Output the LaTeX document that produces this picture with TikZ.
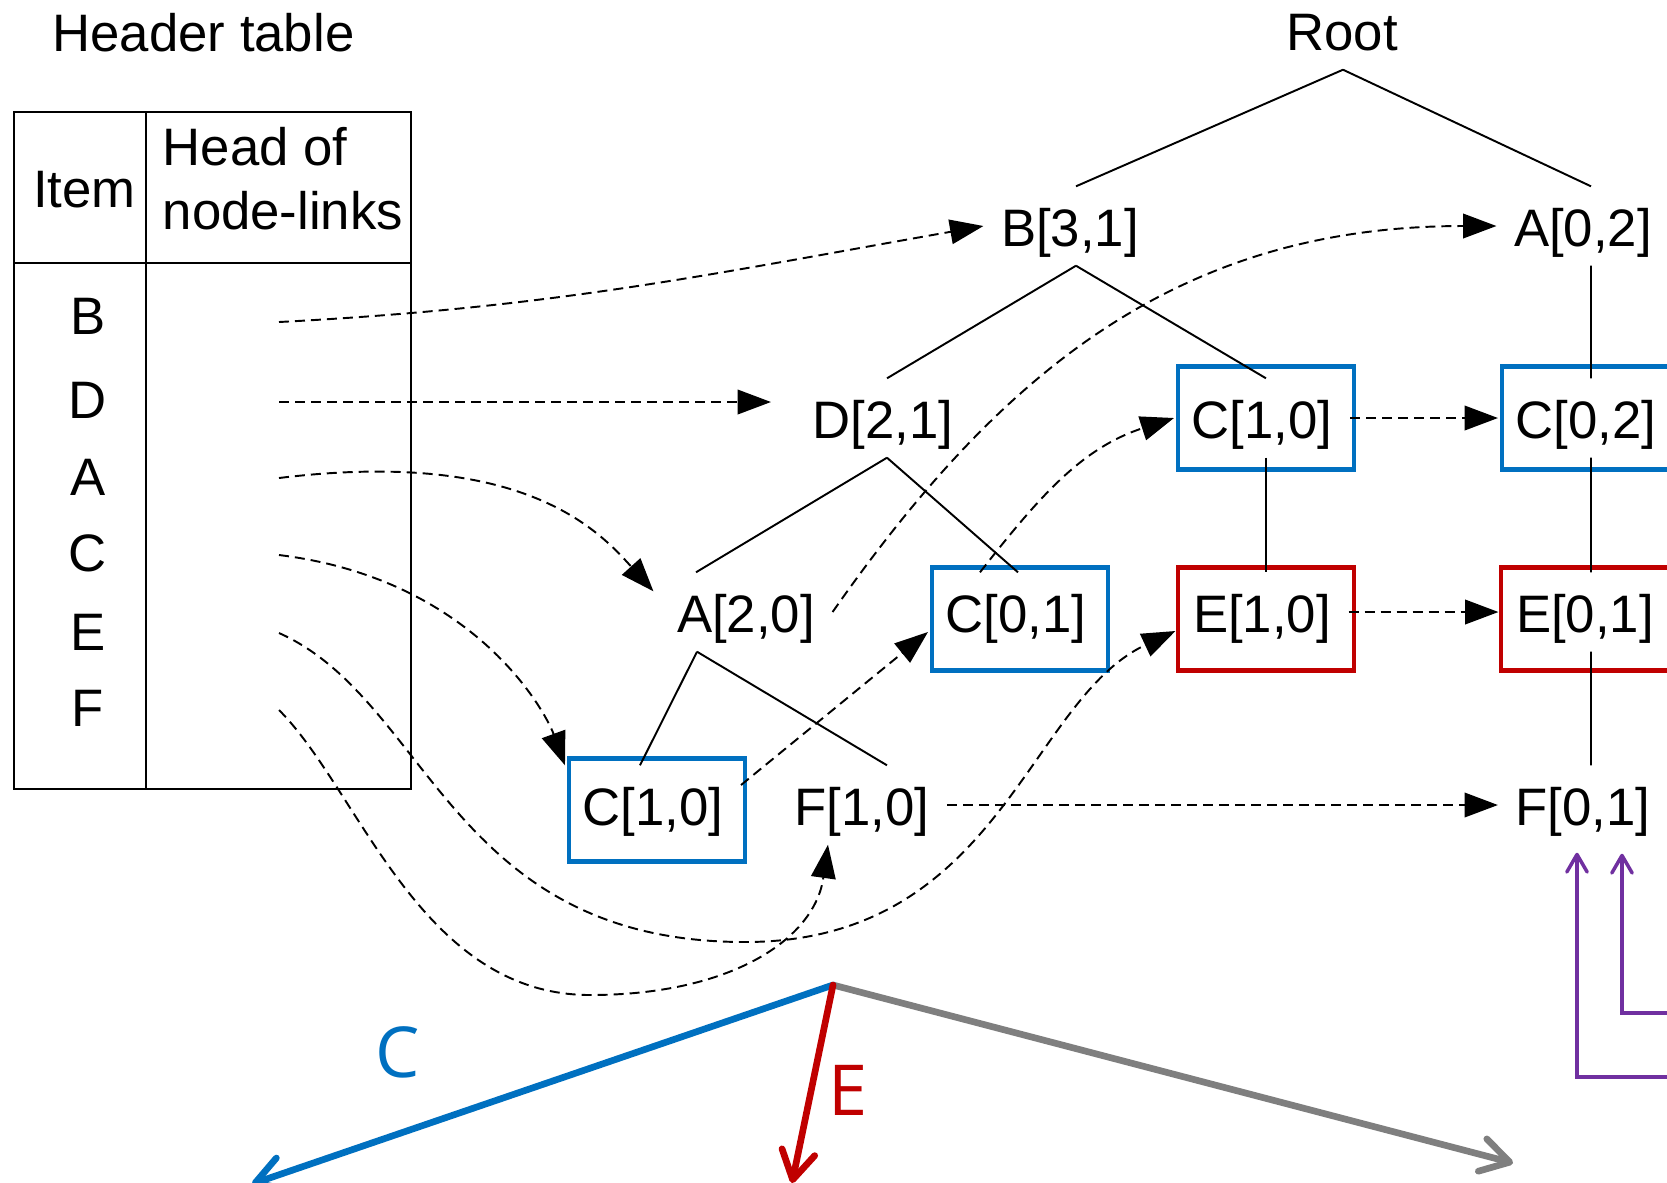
\documentclass[tikz,border=0pt]{standalone}
\usepackage{fontspec}
\setmainfont{Liberation Sans}
\newfontfamily\vecfont{Open Sans}
\usetikzlibrary{arrows.meta, positioning}
\definecolor{hlblue}{HTML}{0070C0}
\definecolor{hlred}{HTML}{C00000}
\definecolor{hlpurple}{HTML}{7030A0}
\definecolor{arrgray}{HTML}{7F7F7F}

\begin{document}
\begin{tikzpicture}[
    font=\fontsize{15pt}{18pt}\selectfont,
    tnode/.style={inner xsep=0.17cm, inner ysep=0pt, text height=0.59cm, text depth=0.19cm},
    hlbox/.style={draw=#1, line width=1.3pt, minimum width=1.76cm, minimum height=1.03cm, xshift=0.4mm},
    treeline/.style={line width=0.55pt},
    link/.style={line width=0.55pt, dash pattern=on 0.1cm off 0.06cm, -{Triangle[length=9.5pt,width=7pt]}},
    vec/.style={line width=1.9pt, line cap=round, -{Straight Barb[length=8pt,width=9.5pt,round]}},
    pvec/.style={draw=hlpurple, line width=1pt, -{Straight Barb[length=5pt,width=5.8pt,round]}}
]
    \clip (0,0) rectangle (16.67,-11.82);

    % Header table
    \node[anchor=base] (htitle) at (2.035,-0.51) {Header table};
    \draw[line width=0.8pt] (0.14,-1.12) rectangle (4.11,-7.89);
    \draw[line width=0.8pt] (1.46,-1.12) -- (1.46,-7.89);
    \draw[line width=0.8pt] (0.14,-2.63) -- (4.11,-2.63);
    \node[anchor=base] (itemcol) at (0.845,-2.07) {Item};
    \node[anchor=north west, inner sep=0pt, align=left] (headcol) at (1.62,-1.27) {Head of\\node-links};
    \foreach \it/\y/\ly in {B/3.16/3.22, D/4.00/4.02, A/4.77/4.78, C/5.53/5.55, E/6.32/6.33, F/7.08/7.10} {
        \node (i\it) at (0.88,-\y) {\it};
        \coordinate (h\it) at (2.79,-\ly);
    }

    % FP-tree
    \node[tnode] (root) at (13.42,-0.30) {Root};
    \node[tnode] (b31) at (10.70,-2.26) {B[3,1]};
    \node[tnode] (a02) at (15.83,-2.26) {A[0,2]};
    \node[tnode] (d21) at (8.83,-4.18) {D[2,1]};
    \node[tnode] (c10r) at (12.62,-4.18) {C[1,0]};
    \node[tnode] (c02) at (15.86,-4.18) {C[0,2]};
    \node[tnode] (a20) at (7.46,-6.12) {A[2,0]};
    \node[tnode] (c01) at (10.16,-6.12) {C[0,1]};
    \node[tnode] (e10) at (12.62,-6.12) {E[1,0]};
    \node[tnode] (e01) at (15.85,-6.12) {E[0,1]};
    \node[tnode] (c10l) at (6.53,-8.05) {C[1,0]};
    \node[tnode] (f10) at (8.62,-8.05) {F[1,0]};
    \node[tnode] (f01) at (15.83,-8.05) {F[0,1]};

    % highlight boxes
    \node[hlbox=hlblue] (c10rbox) at (c10r) {};
    \node[hlbox=hlblue] (c02box) at (c02) {};
    \node[hlbox=hlblue, yshift=-0.7mm] (c01box) at (c01) {};
    \node[hlbox=hlred, yshift=-0.7mm] (e10box) at (e10) {};
    \node[hlbox=hlred, yshift=-0.7mm] (e01box) at (e01) {};
    \node[hlbox=hlblue, yshift=-0.5mm] (c10lbox) at (c10l) {};

    % tree edges
    \draw[treeline] ([xshift=0.1mm]root.south) -- ([xshift=0.6mm]b31.north);
    \draw[treeline] ([xshift=0.1mm]root.south) -- ([xshift=0.8mm]a02.north);
    \draw[treeline] ([xshift=0.6mm]b31.south) -- ([xshift=0.4mm]d21.north);
    \draw[treeline] ([xshift=0.6mm]b31.south) -- ([xshift=0.4mm]c10r.north);
    \draw[treeline] ([xshift=0.8mm]a02.south) -- ([xshift=0.5mm]c02.north);
    \draw[treeline] ([xshift=0.4mm]d21.south) -- ([xshift=-5mm]a20.north);
    \draw[treeline] ([xshift=0.4mm]d21.south) -- ([xshift=0.2mm]c01.north);
    \draw[treeline] ([xshift=0.4mm]c10r.south) -- ([xshift=0.4mm]e10.north);
    \draw[treeline] ([xshift=0.5mm]c02.south) -- ([xshift=0.6mm]e01.north);
    \draw[treeline] ([xshift=-4.9mm]a20.south) -- ([xshift=-1.3mm]c10l.north);
    \draw[treeline] ([xshift=-4.9mm]a20.south) -- ([xshift=2.5mm]f10.north);
    \draw[treeline] ([xshift=0.6mm]e01.south) -- ([xshift=0.8mm]f01.north);

    % node-links
    \coordinate (ebot) at (7.45,-9.42);
    \coordinate (fbot) at (5.90,-9.95);
    \draw[link] (hB) to[out=3,in=190] (b31.west);
    \draw[link, shorten >=2.4mm] (hD) -- (hD -| d21.west);
    \draw[link] (hA) .. controls +(7:2.45) and +(132:0.83) .. ([shift={(-0.06,-0.19)}]a20.north west);
    \draw[link] (hC) .. controls +(-7:1.95) and +(110:0.59) .. (c10l.north west);
    \draw[link] (hE) .. controls +(-24:1.65) and +(180:2.95) .. (ebot)
        .. controls +(0:2.55) and +(205:1.63) .. ([yshift=-1.9mm]e10.west);
    \draw[link] (hF) .. controls +(-45:1.14) and +(180:1.70) .. (fbot)
        .. controls +(0:1.40) and +(262:0.96) .. ([xshift=-3.4mm]f10.south);
    \draw[link] (a20.east) .. controls +(55:2.95) and +(180:3.17) .. (a02.west);
    \draw[link] ([yshift=2mm]c10l.east) -- ([yshift=-2mm]c01.west);
    \draw[link] ([xshift=-3.6mm]c01.north) to[out=52,in=198] (c10r.west);
    \draw[link] (c10r.east) -- (c02.west);
    \draw[link] (e10.east) -- (e01.west);
    \draw[link] (f10.east) -- (f01.west);

    % vectors
    \coordinate (fork) at (8.33,-9.85);
    \coordinate (ctip) at (2.52,-11.84);
    \coordinate (etip) at (7.92,-11.83);
    \coordinate (gtip) at (15.13,-11.63);
    \draw[vec, arrgray] (fork) -- (gtip);
    \draw[vec, hlblue] (fork) -- (ctip);
    \draw[vec, hlred] (fork) -- (etip);
    \node[text=hlblue, font=\vecfont\fontsize{20pt}{24pt}\selectfont] (clabel) at (3.98,-10.52) {C};
    \node[text=hlred, font=\vecfont\fontsize{20pt}{24pt}\selectfont] (elabel) at (8.48,-10.90) {E};

    % purple arrows
    \coordinate (pin1) at (16.90,-10.77);
    \coordinate (pin2) at (16.90,-10.13);
    \draw[pvec] (pin1) -| ([shift={(-0.06,-0.08)}]f01.south);
    \draw[pvec] (pin2) -| ([shift={(0.39,-0.09)}]f01.south);
\end{tikzpicture}
\end{document}
